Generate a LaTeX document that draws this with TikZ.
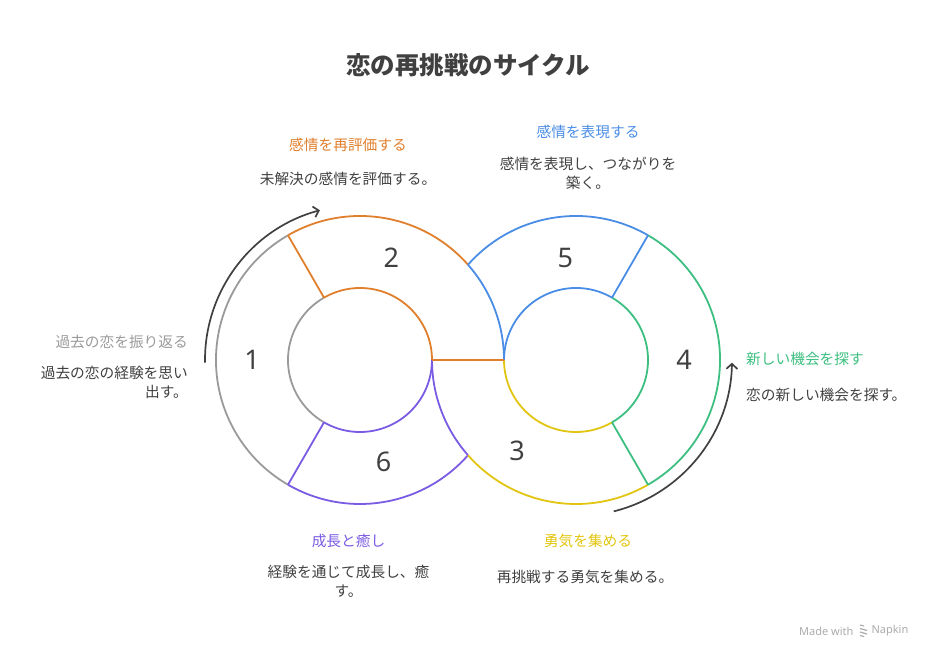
\documentclass[tikz,border=0pt]{standalone}
\usepackage{fontspec}
\setmainfont{Noto Sans CJK JP}
\newfontfamily\numfont{Noto Sans}
\usetikzlibrary{arrows.meta, positioning}
\definecolor{txtDark}{HTML}{404040}
\definecolor{segGray}{HTML}{9A9A9A}
\definecolor{segOrange}{HTML}{E07F2C}
\definecolor{segBlue}{HTML}{4A8DE6}
\definecolor{segGreen}{HTML}{3CBF80}
\definecolor{segYellow}{HTML}{E2C510}
\definecolor{segPurple}{HTML}{7A5BE3}
\definecolor{markGray}{HTML}{ABABAB}
\tikzstyle{ringLine} = [line width=1.8pt]
\tikzstyle{cycleArrow} = [line width=1.7pt, txtDark, -{Straight Barb[length=5pt,width=11pt]}]
\tikzstyle{stepNum} = [font=\numfont\fontsize{27}{27}\selectfont, text=txtDark]
\tikzstyle{stepLabel} = [font=\fontsize{14.7}{19}\selectfont, inner sep=0pt]
\tikzstyle{stepText} = [font=\fontsize{14.7}{19}\selectfont, text=txtDark, inner sep=0pt]
\begin{document}
\begin{tikzpicture}[x=1pt, y=1pt, on grid]
  \useasboundingbox (0,0) rectangle (936,660);
  \coordinate (L) at (360,300); % left ring centre
  \coordinate (R) at (576,300); % right ring centre

  % left ring
  \draw[ringLine, segGray] ([shift={(120:144)}]L) arc[start angle=120, end angle=240, radius=144];
  \draw[ringLine, segGray] ([shift={(120:72)}]L) arc[start angle=120, end angle=240, radius=72];
  \draw[ringLine, segOrange] ([shift={(41.41:144)}]L) arc[start angle=41.41, end angle=120, radius=144];
  \draw[ringLine, segOrange] ([shift={(0:72)}]L) arc[start angle=0, end angle=120, radius=72];
  \draw[ringLine, segOrange] ([shift={(120:72)}]L) -- ([shift={(120:144)}]L);
  \draw[ringLine, segPurple] ([shift={(240:144)}]L) arc[start angle=240, end angle=318.59, radius=144];
  \draw[ringLine, segPurple] ([shift={(240:72)}]L) arc[start angle=240, end angle=360, radius=72];
  \draw[ringLine, segPurple] ([shift={(240:72)}]L) -- ([shift={(240:144)}]L);
  \draw[ringLine, segBlue] ([shift={(0:144)}]L) arc[start angle=0, end angle=41.41, radius=144];

  % right ring
  \draw[ringLine, segPurple] ([shift={(180:144)}]R) arc[start angle=180, end angle=221.41, radius=144];
  \draw[ringLine, segYellow] ([shift={(221.41:144)}]R) arc[start angle=221.41, end angle=300, radius=144];
  \draw[ringLine, segYellow] ([shift={(180:72)}]R) arc[start angle=180, end angle=300, radius=72];
  \draw[ringLine, segGreen] ([shift={(-60:144)}]R) arc[start angle=-60, end angle=60, radius=144];
  \draw[ringLine, segGreen] ([shift={(-60:72)}]R) arc[start angle=-60, end angle=60, radius=72];
  \draw[ringLine, segGreen] ([shift={(-60:72)}]R) -- ([shift={(-60:144)}]R);
  \draw[ringLine, segBlue] ([shift={(60:144)}]R) arc[start angle=60, end angle=138.59, radius=144];
  \draw[ringLine, segBlue] ([shift={(60:72)}]R) arc[start angle=60, end angle=180, radius=72];
  \draw[ringLine, segBlue] ([shift={(60:72)}]R) -- ([shift={(60:144)}]R);
  \draw[ringLine, segOrange] ([shift={(0:72)}]L) -- ([shift={(0:144)}]L);

  % cycle arrows
  \coordinate (a1) at ([shift={(181:155)}]L);
  \coordinate (a2) at ([shift={(-76:156)}]R);
  \draw[cycleArrow] (a1) arc[start angle=181, end angle=105, radius=155];
  \draw[cycleArrow] (a2) arc[start angle=-76, end angle=-1, radius=156];

  % numbers
  \node[stepNum] (n1) at ([shift={(180:108)}]L) {1};
  \node[stepNum] (n2) at ([shift={(73:107)}]L) {2};
  \node[stepNum] (n3) at ([shift={(237:108)}]R) {3};
  \node[stepNum] (n4) at ([shift={(0:108)}]R) {4};
  \node[stepNum] (n5) at ([shift={(96:103)}]R) {5};
  \node[stepNum] (n6) at ([shift={(283:105)}]L) {6};

  % title and texts
  \node[font=\bfseries\fontsize{24.5}{24.5}\selectfont, text=txtDark] (title) at (468,595) {恋の再挑戦のサイクル};
  \node[stepLabel, text=segGray, anchor=east] (l1) at (188,318) {過去の恋を振り返る};
  \node[stepText, align=right, below=40.5pt of l1.east, anchor=east] (d1) {過去の恋の経験を思い\\出す。};
  \node[stepLabel, text=segOrange] (l2) at (348,515) {感情を再評価する};
  \node[stepText, below=34pt of l2] (d2) {未解決の感情を評価する。};
  \node[stepLabel, text=segBlue] (l5) at (588,528) {感情を表現する};
  \node[stepText, align=center, below=41pt of l5] (d5) {感情を表現し、つながりを\\築く。};
  \node[stepLabel, text=segGreen, anchor=west] (l4) at (746,301) {新しい機会を探す};
  \node[stepText, below=36pt of l4.west, anchor=west] (d4) {恋の新しい機会を探す。};
  \node[stepLabel, text=segPurple] (l6) at (348.5,119) {成長と癒し};
  \node[stepText, align=center, below=40.5pt of l6] (d6) {経験を通じて成長し、癒\\す。};
  \node[stepLabel, text=segYellow] (l3) at (588,119) {勇気を集める};
  \node[stepText, below=36pt of l3, xshift=-3pt] (d3) {再挑戦する勇気を集める。};

  % footer
  \node[font=\numfont\fontsize{11}{11}\selectfont, text=markGray, anchor=east] (made) at (857,29) {Made with};
  \node[font=\numfont\fontsize{11}{11}\selectfont, text=markGray, anchor=west] (napkin) at (868,29) {Napkin};
  \draw[markGray, line width=1.2pt] (860,35) -- (864,34) (860,31.5) -- (867,29.5) (860,28) -- (867,26) (860,24.5) -- (864,23.5);
\end{tikzpicture}
\end{document}
